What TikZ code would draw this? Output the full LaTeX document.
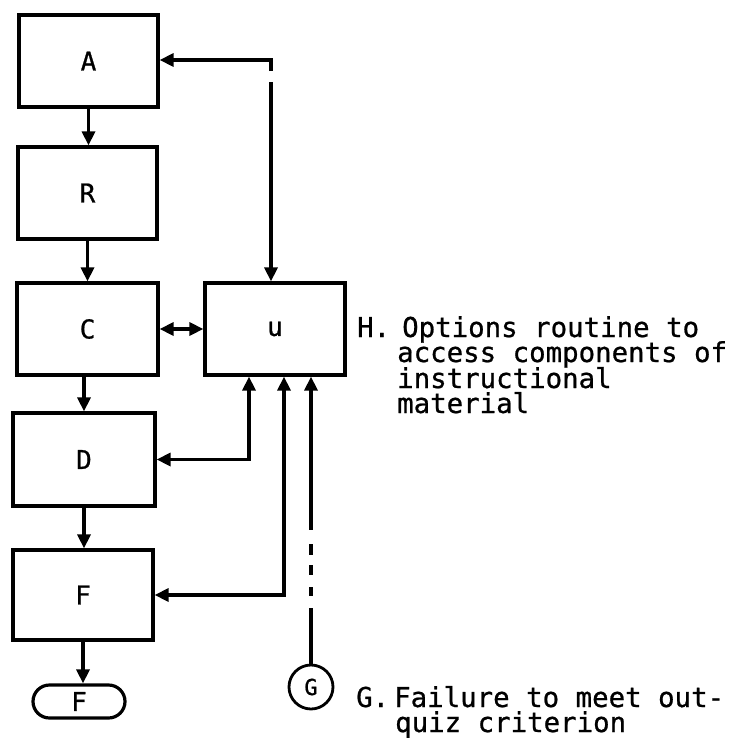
\documentclass[tikz,border=0pt]{standalone}
\usepackage{fontspec}
\setmainfont[FakeBold=0.8,AutoFakeBold=0.8]{DejaVu Sans Mono}
\usetikzlibrary{arrows.meta,shapes.misc}
\begin{document}
\begin{tikzpicture}[x=1pt,y=-1pt,
  every node/.style={font=\fontsize{26}{28}\selectfont\bfseries},
  boxnode/.style={draw,line width=3.2pt,inner sep=0pt},
  tip/.tip={Triangle[length=14pt,width=13pt]},
  arr/.style={line width=3.2pt,-tip},
  darr/.style={line width=3.2pt,tip-tip},
  note/.style={font=\fontsize{27.4}{29}\selectfont\bfseries,inner sep=0pt,anchor=base west}]
\useasboundingbox (0,0) rectangle (728,744);
% boxes
\node[boxnode,minimum width=139pt,minimum height=92pt] (A) at (88.5,61) {A};
\node[boxnode,minimum width=139pt,minimum height=92pt] (B) at (87.5,193) {R};
\node[boxnode,minimum width=141pt,minimum height=92pt] (C) at (87.5,329) {C};
\node[boxnode,minimum width=142pt,minimum height=93pt] (D) at (84,459.5) {D};
\node[boxnode,minimum width=140pt,minimum height=90pt] (E) at (83,595) {F};
\node[boxnode,minimum width=140pt,minimum height=92pt] (H) at (275,329) {u};
\node[draw,line width=3.2pt,rounded rectangle,minimum width=92pt,minimum height=33pt,inner sep=0pt] (T) at (79,701.5) {F};
\node[draw,line width=2.8pt,circle,minimum size=44pt,inner sep=0pt,font=\fontsize{22}{24}\selectfont\bfseries] (G) at (311,687) {G};
% main flow
\draw[arr] (A.south) -- (A.south |- B.north);
\draw[arr] (B.south) -- (B.south |- C.north);
\draw[arr] (D.north |- C.south) -- (D.north);
\draw[arr] (D.south) -- (D.south |- E.north);
\draw[arr] (E.south) -- (E.south |- T.north);
% C <-> H
\draw[darr] (C.east) -- (H.west);
% top loop to A and H
\coordinate (kb) at (271,71);
\coordinate (kc) at (271,60);
\coordinate (kv) at (271,82);
\draw[arr] (kb) -- (kc) -- (kc -| A.east);
\draw[arr] (kv) -- (kv |- H.north);
% H <-> D, H <-> E
\draw[darr] ([xshift=-26pt]H.south) |- (D.east);
\draw[darr] ([xshift=9pt]H.south) |- (E.east);
% G -> H
\draw[arr,dash pattern=on 56pt off 12pt on 9pt off 12pt on 10pt off 10pt on 11pt off 14pt on 300pt] (G.north) -- (G.north |- H.south);
% notes
\node[note] (hl) at (357,337) {H.};
\node[note] (h1) at (402,337) {Options routine to};
\node[note] (h2) at (397,362) {access components of};
\node[note] (h3) at (397,388) {instructional};
\node[note] (h4) at (397,413) {material};
\node[note] (gl) at (356,707) {G.};
\node[note] (g1) at (394,707) {Failure to meet out-};
\node[note] (g2) at (395,732) {quiz criterion};
\end{tikzpicture}
\end{document}
